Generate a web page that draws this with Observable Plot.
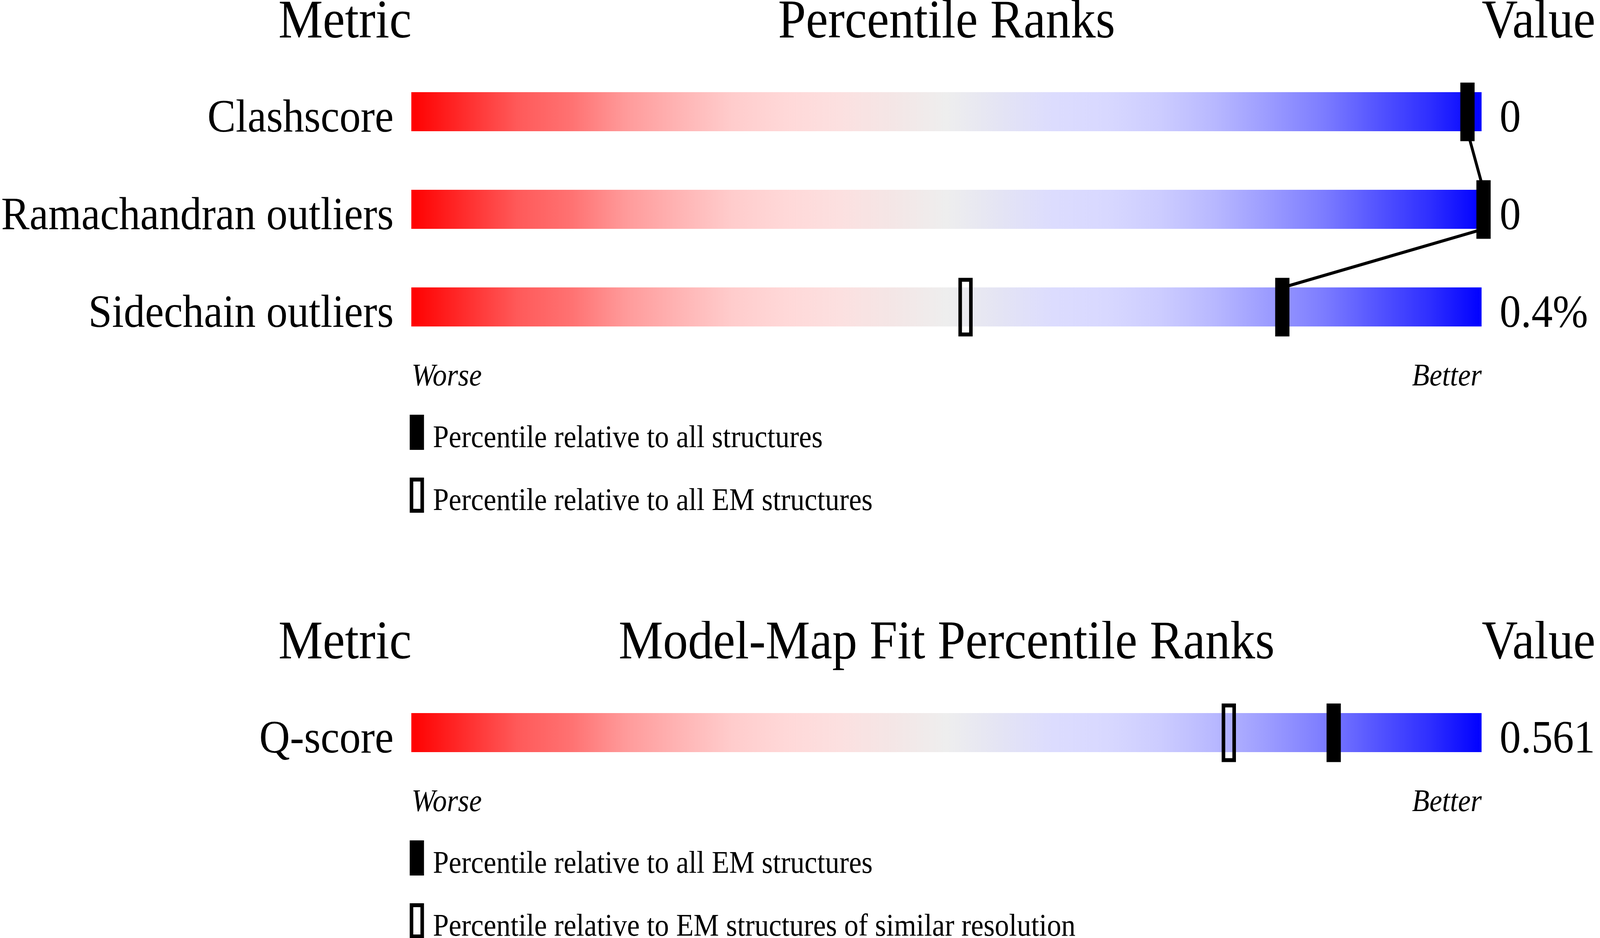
<!DOCTYPE html>
<html>
<head>
<meta charset="utf-8">
<script src="https://cdn.jsdelivr.net/npm/d3@7"></script>
<script src="https://cdn.jsdelivr.net/npm/@observablehq/plot@0.6"></script>
<style>
  html, body { margin: 0; padding: 0; background: #fff; overflow: hidden; }
  #root { width: 4485px; height: 2402px; overflow: hidden; position: absolute; left: 0; top: 0; background: #fff; transform-origin: 0 0; }
  #root svg { display: block; max-width: none; }
</style>
</head>
<body>
<div id="root"></div>
<script>
// ---------------- data ----------------
const metricHeader = "Metric";
const valueHeader = "Value";
const endLabels = ["Worse", "Better"];
const percentileDomain = [0, 100];

// Section 1: Percentile Ranks
const title1 = "Percentile Ranks";
const metrics1 = ["Clashscore", "Ramachandran outliers", "Sidechain outliers"];
const values1 = ["0", "0", "0.4%"];
const pctAll1 = [98.5, 100, 81.2];          // filled marker: all structures
const pctEM1 = [null, null, 51.6];          // open marker: all EM structures
const legend1 = ["Percentile relative to all structures", "Percentile relative to all EM structures"];

// Section 2: Model-Map Fit Percentile Ranks
const title2 = "Model-Map Fit Percentile Ranks";
const metrics2 = ["Q-score"];
const values2 = ["0.561"];
const pctAllEM2 = [86.0];                   // filled marker: all EM structures
const pctSimilar2 = [76.2];                 // open marker: EM structures of similar resolution
const legend2 = ["Percentile relative to all EM structures", "Percentile relative to EM structures of similar resolution"];

// ---------------- styles ----------------
const FONT = "'Liberation Serif', 'Times New Roman', Times, serif";
const gradientStops = [
  [0, "#ff0000"], [0.10, "#ff5a5a"], [0.15, "#ff7272"], [0.20, "#ff9a9a"], [0.25, "#ffb4b4"],
  [0.30, "#ffcccc"], [0.35, "#ffd8d8"], [0.40, "#fce0e0"], [0.45, "#f4e6e6"], [0.50, "#eeeeee"],
  [0.55, "#e4e4f4"], [0.60, "#dcdcfe"], [0.65, "#d8d8ff"], [0.70, "#ccccff"], [0.75, "#b8b8ff"],
  [0.80, "#9c9cff"], [0.85, "#7e7eff"], [0.90, "#5656ff"], [0.95, "#3030ff"], [1, "#0000ff"]
];
const markerFilled = {draw(ctx) { ctx.rect(-20, -75, 40, 150); }};
const markerOpen = {draw(ctx) { ctx.rect(-15, -70, 30, 140); }};
const swatchFilled = {draw(ctx) { ctx.rect(-20, -45, 40, 90); }};
const swatchOpen = {draw(ctx) { ctx.rect(-15, -40, 30, 80); }};
const XRANGE = [1153, 4153];

function addGradient(svg, id) {
  const ns = "http://www.w3.org/2000/svg";
  const defs = document.createElementNS(ns, "defs");
  const lg = document.createElementNS(ns, "linearGradient");
  lg.setAttribute("id", id);
  lg.setAttribute("x1", "0"); lg.setAttribute("x2", "1");
  lg.setAttribute("y1", "0"); lg.setAttribute("y2", "0");
  for (const [o, c] of gradientStops) {
    const s = document.createElementNS(ns, "stop");
    s.setAttribute("offset", o);
    s.setAttribute("stop-color", c);
    lg.appendChild(s);
  }
  defs.appendChild(lg);
  svg.insertBefore(defs, svg.firstChild);
}

function section({title, metrics, values, filled, open, linkFilled, height, gradId}) {
  const rows = metrics.map((m, i) => ({m, i, v: values[i], f: filled[i], o: open[i]}));
  const links = linkFilled ? d3.pairs(rows.filter(r => r.f != null)) : [];
  const last = rows.length - 1;
  const svg = Plot.plot({
    width: 4485, height, margin: 0,
    style: {fontFamily: FONT, background: "white", color: "black"},
    x: {domain: percentileDomain, range: XRANGE, axis: null},
    y: {type: "linear", domain: [0, 1], range: [286, 536], axis: null},
    marks: [
      Plot.text([metricHeader], {x: percentileDomain[0], frameAnchor: "top", text: d => d, textAnchor: "end", lineAnchor: "bottom", dy: 95, fontSize: 140}),
      Plot.text([title], {x: (percentileDomain[0] + percentileDomain[1]) / 2, frameAnchor: "top", text: d => d, textAnchor: "middle", lineAnchor: "bottom", dy: 95, fontSize: 140}),
      Plot.text([valueHeader], {x: percentileDomain[1], frameAnchor: "top", text: d => d, textAnchor: "start", lineAnchor: "bottom", dy: 95, fontSize: 140}),
      Plot.rect(rows, {x1: percentileDomain[0], x2: percentileDomain[1], y1: d => d.i - 0.2, y2: d => d.i + 0.2, fill: `url(#${gradId})`}),
      Plot.link(links, {x1: ([a]) => a.f, y1: ([a]) => a.i + 0.2, x2: ([, b]) => b.f, y2: ([, b]) => b.i - 0.2, stroke: "black", strokeWidth: 8, dx: 5}),
      Plot.dot(rows.filter(d => d.o != null), {x: "o", y: "i", symbol: markerOpen, fill: "none", stroke: "black", strokeWidth: 10, dx: 5}),
      Plot.dot(rows.filter(d => d.f != null), {x: "f", y: "i", symbol: markerFilled, fill: "black", stroke: "none", dx: 5}),
      Plot.text(rows, {x: percentileDomain[0], y: "i", text: "m", textAnchor: "end", lineAnchor: "bottom", dx: -50, dy: 50, fontSize: 119}),
      Plot.text(rows, {x: percentileDomain[1], y: "i", text: "v", textAnchor: "start", lineAnchor: "bottom", dx: 50, dy: 50, fontSize: 119}),
      Plot.text([endLabels[0]], {x: percentileDomain[0], y: last, text: d => d, textAnchor: "start", lineAnchor: "bottom", dy: 200, fontSize: 80, fontStyle: "italic"}),
      Plot.text([endLabels[1]], {x: percentileDomain[1], y: last, text: d => d, textAnchor: "end", lineAnchor: "bottom", dy: 200, fontSize: 80, fontStyle: "italic"})
    ]
  });
  addGradient(svg, gradId);
  return svg;
}

function legend(labels) {
  return Plot.plot({
    width: 4485, height: 322, margin: 0,
    style: {fontFamily: FONT, background: "white", color: "black"},
    x: {domain: percentileDomain, range: XRANGE, axis: null},
    y: {type: "band", domain: labels, range: [0, 322], padding: 0, axis: null},
    marks: [
      Plot.dot([labels[0]], {x: percentileDomain[0], y: d => d, symbol: swatchFilled, fill: "black", stroke: "none", dx: 15}),
      Plot.dot([labels[1]], {x: percentileDomain[0], y: d => d, symbol: swatchOpen, fill: "none", stroke: "black", strokeWidth: 10, dx: 15}),
      Plot.text(labels, {x: percentileDomain[0], y: d => d, text: d => d, textAnchor: "start", lineAnchor: "bottom", dx: 60, dy: 37.5, fontSize: 80})
    ]
  });
}

const root = document.getElementById("root");
root.appendChild(section({title: title1, metrics: metrics1, values: values1, filled: pctAll1, open: pctEM1, linkFilled: true, height: 1026, gradId: "gradTop"}));
root.appendChild(legend(legend1));
const s2 = section({title: title2, metrics: metrics2, values: values2, filled: pctAllEM2, open: pctSimilar2, linkFilled: true, height: 526, gradId: "gradBottom"});
s2.style.marginTop = "242px";
root.appendChild(s2);
root.appendChild(legend(legend2));

// map the 4485x2402 drawing onto the actual viewport
function fit() {
  const sx = window.innerWidth / 4485;
  const sy = window.innerHeight / 2402;
  root.style.transform = `scale(${sx}, ${sy})`;
}
fit();
window.addEventListener("resize", fit);
</script>
</body>
</html>
